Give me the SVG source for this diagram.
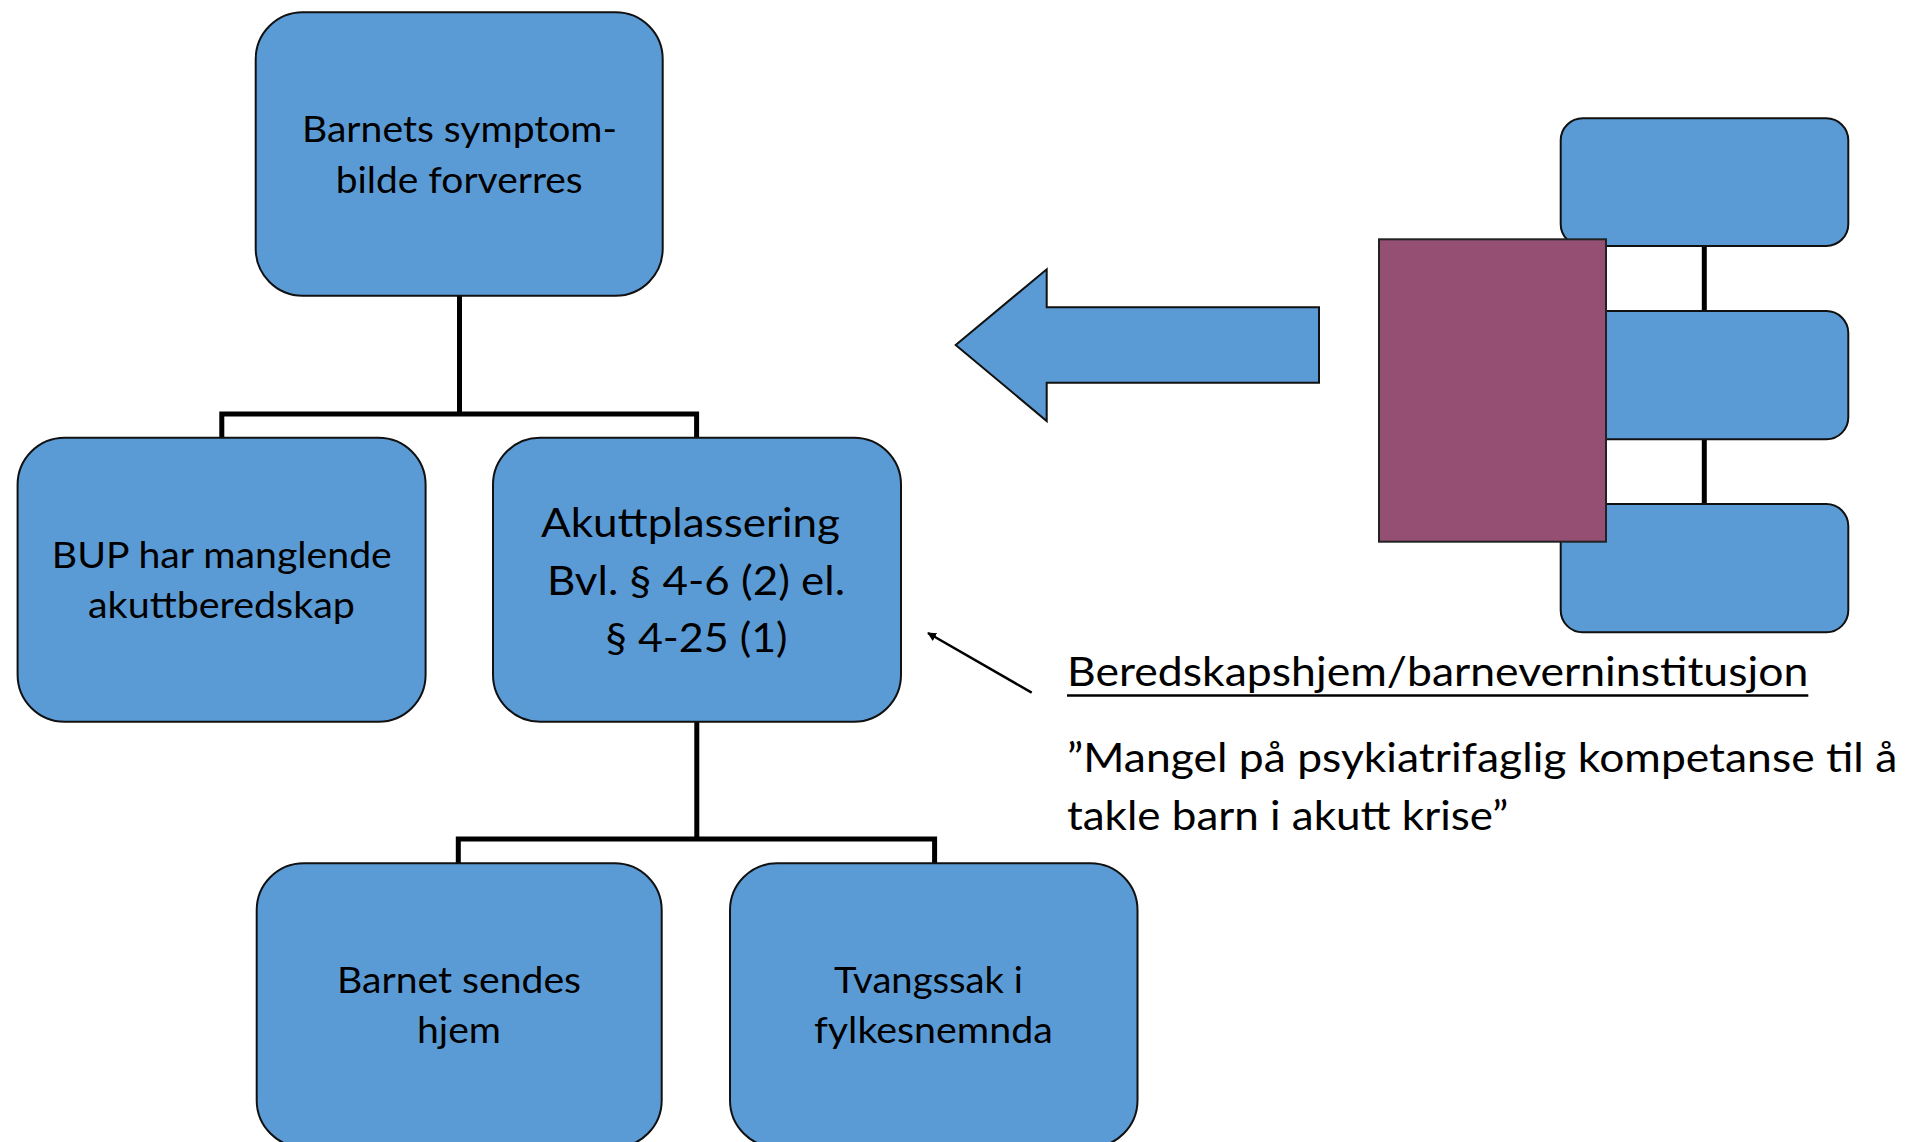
<svg xmlns="http://www.w3.org/2000/svg" width="1911" height="1142" viewBox="0 0 1911 1142">
<style>
.box{fill:#5B9BD5;stroke:#111;stroke-width:2}
.plum{fill:#954F72;stroke:#222;stroke-width:2}
.conn{fill:none;stroke:#000;stroke-width:5;stroke-linejoin:miter;stroke-linecap:butt}
.t{font-family:Lato,"Liberation Sans",sans-serif;fill:#000;text-anchor:middle}
.s{font-size:36.5px}
.l{font-size:40.5px}
.r{font-family:Lato,"Liberation Sans",sans-serif;fill:#000;font-size:40px}
.ptr{stroke:#000;stroke-width:2.5;fill:none}
</style>
<defs>
<marker id="ah" viewBox="0 0 10 10" refX="9" refY="5" markerWidth="9" markerHeight="9" markerUnits="userSpaceOnUse" orient="auto">
<path d="M0,0 L10,5 L0,10 z" fill="#000"/>
</marker>
</defs>
<rect width="1911" height="1142" fill="#fff"/>
<g id="connectors">
<path class="conn" d="M459.5 295.7 V414 M221.8 437.7 V414 H696.6 V437.7"/>
<path class="conn" d="M696.8 721.7 V839 M458.3 863.3 V839 H934.6 V863.3"/>
<path class="conn" d="M1704.3 246 V504"/>
<line class="ptr" x1="1031.7" y1="692.7" x2="928" y2="633" marker-end="url(#ah)"/>
</g>
<g id="node-top">
<rect class="box" x="255.7" y="12.3" width="407" height="283.4" rx="47"/>
<text class="t s" x="459.5" y="141.7" textLength="315" lengthAdjust="spacingAndGlyphs">Barnets symptom-</text>
<text class="t s" x="459.2" y="193.3" textLength="247" lengthAdjust="spacingAndGlyphs">bilde forverres</text>
</g>
<g id="node-bup">
<rect class="box" x="17.6" y="437.7" width="408" height="284" rx="47"/>
<text class="t s" x="221.8" y="568.3" textLength="340" lengthAdjust="spacingAndGlyphs">BUP har manglende</text>
<text class="t s" x="221.5" y="618.3" textLength="267" lengthAdjust="spacingAndGlyphs">akuttberedskap</text>
</g>
<g id="node-akutt">
<rect class="box" x="493" y="437.7" width="408" height="284" rx="47"/>
<text class="t l" x="690.5" y="536.7" textLength="299" lengthAdjust="spacingAndGlyphs">Akuttplassering</text>
<text class="t l" x="696" y="595" textLength="298" lengthAdjust="spacingAndGlyphs">Bvl. § 4-6 (2) el.</text>
<text class="t l" x="696.6" y="651.7" textLength="182" lengthAdjust="spacingAndGlyphs">§ 4-25 (1)</text>
</g>
<g id="node-hjem">
<rect class="box" x="256.7" y="863.3" width="405" height="284" rx="47"/>
<text class="t s" x="459" y="993.3" textLength="244" lengthAdjust="spacingAndGlyphs">Barnet sendes</text>
<text class="t s" x="459" y="1043.3" textLength="84" lengthAdjust="spacingAndGlyphs">hjem</text>
</g>
<g id="node-tvang">
<rect class="box" x="730" y="863.3" width="407.5" height="284" rx="47"/>
<text class="t s" x="928.4" y="993.3" textLength="189" lengthAdjust="spacingAndGlyphs">Tvangssak i</text>
<text class="t s" x="933.4" y="1043.3" textLength="238.7" lengthAdjust="spacingAndGlyphs">fylkesnemnda</text>
</g>
<g id="big-arrow">
<polygon class="box" points="955.7,345 1046.7,269.3 1046.7,307.3 1319,307.3 1319,382.7 1046.7,382.7 1046.7,421"/>
</g>
<g id="icon">
<rect class="box" x="1560.7" y="118.3" width="287.6" height="127.7" rx="22"/>
<rect class="box" x="1560.7" y="311" width="287.6" height="128.3" rx="22"/>
<rect class="box" x="1560.7" y="504" width="287.6" height="128.3" rx="22"/>
<rect class="plum" x="1379" y="239.3" width="227" height="302.4"/>
</g>
<g id="label-beredskap">
<text class="r" x="1067" y="686" textLength="741.3" lengthAdjust="spacingAndGlyphs">Beredskapshjem/barneverninstitusjon</text>
<line x1="1067" y1="695.5" x2="1808.3" y2="695.5" stroke="#000" stroke-width="2.5"/>
<text class="r" x="1067" y="771.7" textLength="830.3" lengthAdjust="spacingAndGlyphs">”Mangel på psykiatrifaglig kompetanse til å</text>
<text class="r" x="1067" y="830" textLength="441.3" lengthAdjust="spacingAndGlyphs">takle barn i akutt krise”</text>
</g>
</svg>
